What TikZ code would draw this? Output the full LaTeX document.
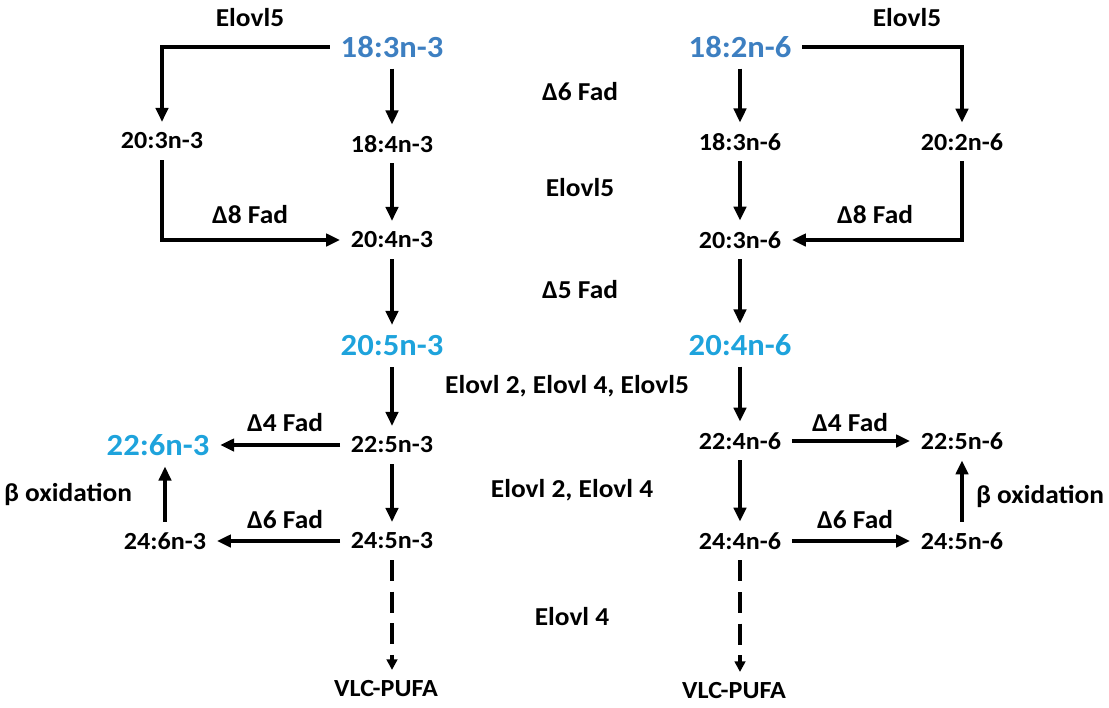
\documentclass[tikz,border=0pt]{standalone}
\usepackage{fontspec}
\setmainfont{Carlito}[FakeStretch=1.06]
\usetikzlibrary{arrows.meta}
\definecolor{startblue}{HTML}{3D7FC1}
\definecolor{keycyan}{HTML}{1EA3DC}

\begin{document}
\begin{tikzpicture}[x=0.02cm, y=-0.02cm,
        fa/.style={font=\fontsize{14}{16}\selectfont\bfseries, inner sep=6pt},
        fastart/.style={fa, font=\fontsize{17.5}{20}\selectfont\bfseries, text=startblue},
        fakey/.style={fa, font=\fontsize{17.5}{20}\selectfont\bfseries, text=keycyan},
        enz/.style={font=\fontsize{14.7}{17}\selectfont\bfseries},
        conv/.style={line width=2pt, -{Triangle[length=8pt, width=7pt]}},
        vlc/.style={line width=2.2pt, dash pattern=on 12pt off 6pt, -{Triangle[length=6pt, width=6pt]}}]
        \useasboundingbox (0,0) rectangle (1109,707);

        \node[fastart] (a183) at (392, 47) {18:3n-3};
        \node[fa] (a203) at (162, 141) {20:3n-3};
        \node[fa] (a184) at (392, 144) {18:4n-3};
        \node[fa] (a204) at (392, 240) {20:4n-3};
        \node[fakey] (a205) at (392, 346) {20:5n-3};
        \node[fa] (a225) at (392, 445) {22:5n-3};
        \node[fakey] (a226) at (158, 445) {22:6n-3};
        \node[fa] (a245) at (392, 541) {24:5n-3};
        \node[fa] (a246) at (165, 541) {24:6n-3};
        \node[fa] (avlc) at (386, 689) {VLC-PUFA};

        \node[fastart] (b182) at (740, 47) {18:2n-6};
        \node[fa] (b183) at (740, 142) {18:3n-6};
        \node[fa] (b202) at (962, 142) {20:2n-6};
        \node[fa] (b203) at (740, 240) {20:3n-6};
        \node[fakey] (b204) at (740, 345) {20:4n-6};
        \node[fa] (b224) at (740, 441) {22:4n-6};
        \node[fa] (b225) at (962, 441) {22:5n-6};
        \node[fa] (b244) at (740, 541) {24:4n-6};
        \node[fa] (b245) at (962, 541) {24:5n-6};
        \node[fa] (bvlc) at (734, 691) {VLC-PUFA};

        \node[enz] (e5a) at (250, 18) {Elovl5};
        \node[enz] (e5b) at (907, 18) {Elovl5};
        \node[enz] (d6) at (580, 92) {Δ6 Fad};
        \node[enz] (e5c) at (580, 188) {Elovl5};
        \node[enz] (d8a) at (250, 215) {Δ8 Fad};
        \node[enz] (d8b) at (875, 215) {Δ8 Fad};
        \node[enz] (d5) at (580, 290) {Δ5 Fad};
        \node[enz] (e245) at (567, 386) {Elovl 2, Elovl 4, Elovl5};
        \node[enz] (d4a) at (285, 423) {Δ4 Fad};
        \node[enz] (d4b) at (850, 423) {Δ4 Fad};
        \node[enz] (e24) at (572, 490) {Elovl 2, Elovl 4};
        \node[enz] (boxa) at (68, 494) {β oxidation};
        \node[enz] (boxb) at (1040, 496) {β oxidation};
        \node[enz] (d6a) at (285, 520) {Δ6 Fad};
        \node[enz] (d6b) at (855, 520) {Δ6 Fad};
        \node[enz] (e4) at (572, 617) {Elovl 4};

        \draw[conv] (a183.west) -| (a203.north);
        \draw[conv] (a183) -- (a184);
        \draw[conv] (a184) -- (a204);
        \draw[conv] (a203.south) |- (a204.west);
        \draw[conv] (a204) -- (a205);
        \draw[conv] (a205) -- (a225);
        \draw[conv] (a225) -- (a226);
        \draw[conv] (a225) -- (a245);
        \draw[conv] (a245) -- (a246);
        \draw[conv] (a246.north) -- (a246.north |- a226.south);
        \draw[vlc] (a245.south) -- (a245 |- avlc.north);

        \draw[conv] (b182.east) -| (b202.north);
        \draw[conv] (b182) -- (b183);
        \draw[conv] (b183) -- (b203);
        \draw[conv] (b202.south) |- (b203.east);
        \draw[conv] (b203) -- (b204);
        \draw[conv] (b204) -- (b224);
        \draw[conv] (b224) -- (b225);
        \draw[conv] (b224) -- (b244);
        \draw[conv] (b244) -- (b245);
        \draw[conv] (b245) -- (b225);
        \draw[vlc] (b244.south) -- (b244 |- bvlc.north);
\end{tikzpicture}
\end{document}
